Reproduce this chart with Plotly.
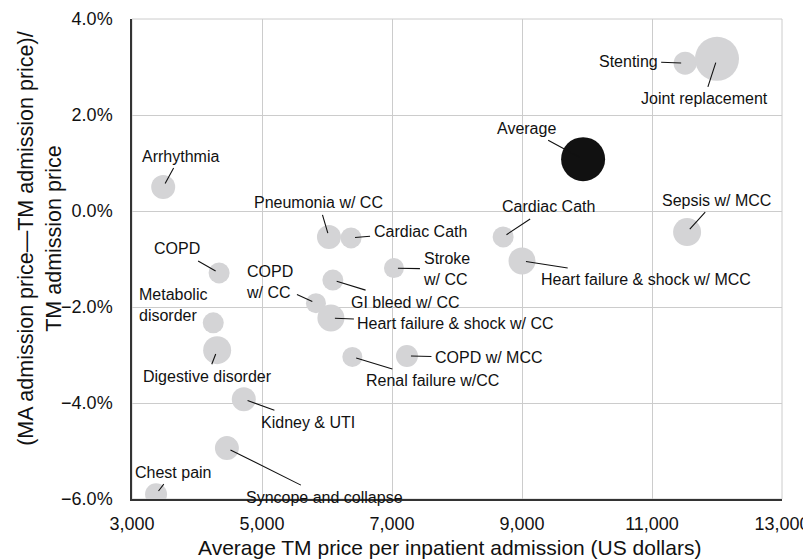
import plotly.graph_objects as go

# --- data ---
drg_names = [
    "Arrhythmia", "COPD", "Pneumonia w/ CC", "Cardiac Cath", "COPD<br>w/ CC",
    "GI bleed w/ CC", "Heart failure & shock w/ CC", "Metabolic<br>disorder",
    "Digestive disorder", "Kidney & UTI", "Syncope and collapse", "Chest pain",
    "Renal failure w/CC", "COPD w/ MCC", "Stroke<br>w/ CC", "Cardiac Cath",
    "Heart failure & shock w/ MCC", "Sepsis w/ MCC", "Stenting", "Joint replacement",
]
tm_price = [
    3480, 4340, 6030, 6370, 5830,
    6090, 6060, 4250,
    4310, 4720, 4460, 3370,
    6390, 7230, 7030, 8710,
    9000, 11540, 11510, 12000,
]
price_diff_pct = [
    0.50, -1.29, -0.54, -0.56, -1.92,
    -1.44, -2.23, -2.33,
    -2.90, -3.92, -4.94, -5.90,
    -3.04, -3.02, -1.19, -0.54,
    -1.04, -0.44, 3.08, 3.17,
]
admission_volume = [
    24, 21, 24, 21, 20,
    21, 27, 21,
    28, 24, 24, 22,
    20, 22, 20, 21,
    27, 28, 23, 44,
]

avg_name = "Average"
avg_price = 9940
avg_diff_pct = 1.08
avg_volume = 44

x_ticks = [3000, 5000, 7000, 9000, 11000, 13000]
y_ticks = [-6, -4, -2, 0, 2, 4]
x_ticktext = [f"{v:,}" for v in x_ticks]
y_ticktext = [f"{v:.1f}%".replace("-", "\u2212") for v in y_ticks]

# label text offsets (px, from bubble centre)
label_offsets = [
    (17, -31), (-42, -24), (-10, -34), (69, -6), (-46, -21),
    (72, 22), (125, 5), (-40, -18),
    (-10, 26), (64, 23), (98, 49), (17, -22),
    (80, 24), (82, 2), (53, 1), (45, -30),
    (124, 19), (29, -32), (-57, -2), (-13, 40),
]
avg_offset = (-57, -31)

FONT = "Liberation Sans, Arial, Helvetica, sans-serif"
GRID = "#cccccc"

fig = go.Figure()
fig.add_trace(
    go.Scatter(
        x=tm_price,
        y=price_diff_pct,
        mode="markers",
        marker={"size": admission_volume, "sizemode": "diameter", "color": "#d4d4d6",
                "line": {"width": 0}, "opacity": 1},
        hovertext=drg_names,
        showlegend=False,
    )
)
fig.add_trace(
    go.Scatter(
        x=[avg_price],
        y=[avg_diff_pct],
        mode="markers",
        marker={"size": [avg_volume], "sizemode": "diameter", "color": "#111111",
                "line": {"width": 0}, "opacity": 1},
        hovertext=[avg_name],
        showlegend=False,
    )
)

annotations = []
for name, x, y, (ax, ay) in zip(drg_names + [avg_name], tm_price + [avg_price],
                                price_diff_pct + [avg_diff_pct], label_offsets + [avg_offset]):
    annotations.append(
        dict(
            x=x, y=y, xref="x", yref="y",
            ax=ax, ay=ay,
            text=name,
            align="left",
            showarrow=True,
            arrowhead=0,
            arrowwidth=1.1,
            arrowcolor="#111111",
            standoff=4,
            borderpad=3,
            font={"size": 16, "color": "#111111", "family": FONT},
        )
    )

# axis titles as annotations for precise placement
annotations.append(
    dict(
        text="Average TM price per inpatient admission (US dollars)",
        xref="paper", yref="paper", x=0.489, y=-0.1,
        xanchor="center", yanchor="middle", showarrow=False,
        font={"size": 21, "color": "#111111", "family": FONT},
    )
)
annotations.append(
    dict(
        text="(MA admission price\u2014TM admission price)/<br>TM admission price",
        xref="paper", yref="paper", x=-0.1415, y=0.542,
        xanchor="center", yanchor="middle", showarrow=False, textangle=-90,
        font={"size": 21.5, "color": "#111111", "family": FONT},
    )
)

# the page body adds an 8px margin on the top/left, so the figure is 8px smaller
fig.update_layout(
    width=803,
    height=551,
    margin={"l": 124, "r": 29, "t": 11, "b": 60, "autoexpand": False},
    paper_bgcolor="white",
    plot_bgcolor="white",
    font={"family": FONT, "color": "#111111"},
    showlegend=False,
    annotations=annotations,
    shapes=[
        dict(type="rect", xref="paper", yref="paper", x0=0, y0=0, x1=1, y1=1,
             line={"color": GRID, "width": 1}, layer="below"),
    ],
    xaxis={
        "range": [3000, 13000],
        "tickvals": x_ticks,
        "ticktext": x_ticktext,
        "showgrid": True,
        "gridcolor": GRID,
        "gridwidth": 1,
        "zeroline": False,
        "showline": True,
        "linecolor": "#333333",
        "linewidth": 1.5,
        "ticks": "outside",
        "ticklen": 8,
        "tickcolor": "rgba(0,0,0,0)",
        "automargin": False,
        "tickfont": {"size": 18, "color": "#111111"},
    },
    yaxis={
        "range": [-6, 4],
        "tickvals": y_ticks,
        "ticktext": y_ticktext,
        "showgrid": True,
        "gridcolor": GRID,
        "gridwidth": 1,
        "zeroline": False,
        "showline": True,
        "linecolor": "#333333",
        "linewidth": 1.5,
        "ticks": "outside",
        "ticklen": 14,
        "tickcolor": "rgba(0,0,0,0)",
        "automargin": False,
        "tickfont": {"size": 18, "color": "#111111"},
    },
)

fig.write_html("out.html")
